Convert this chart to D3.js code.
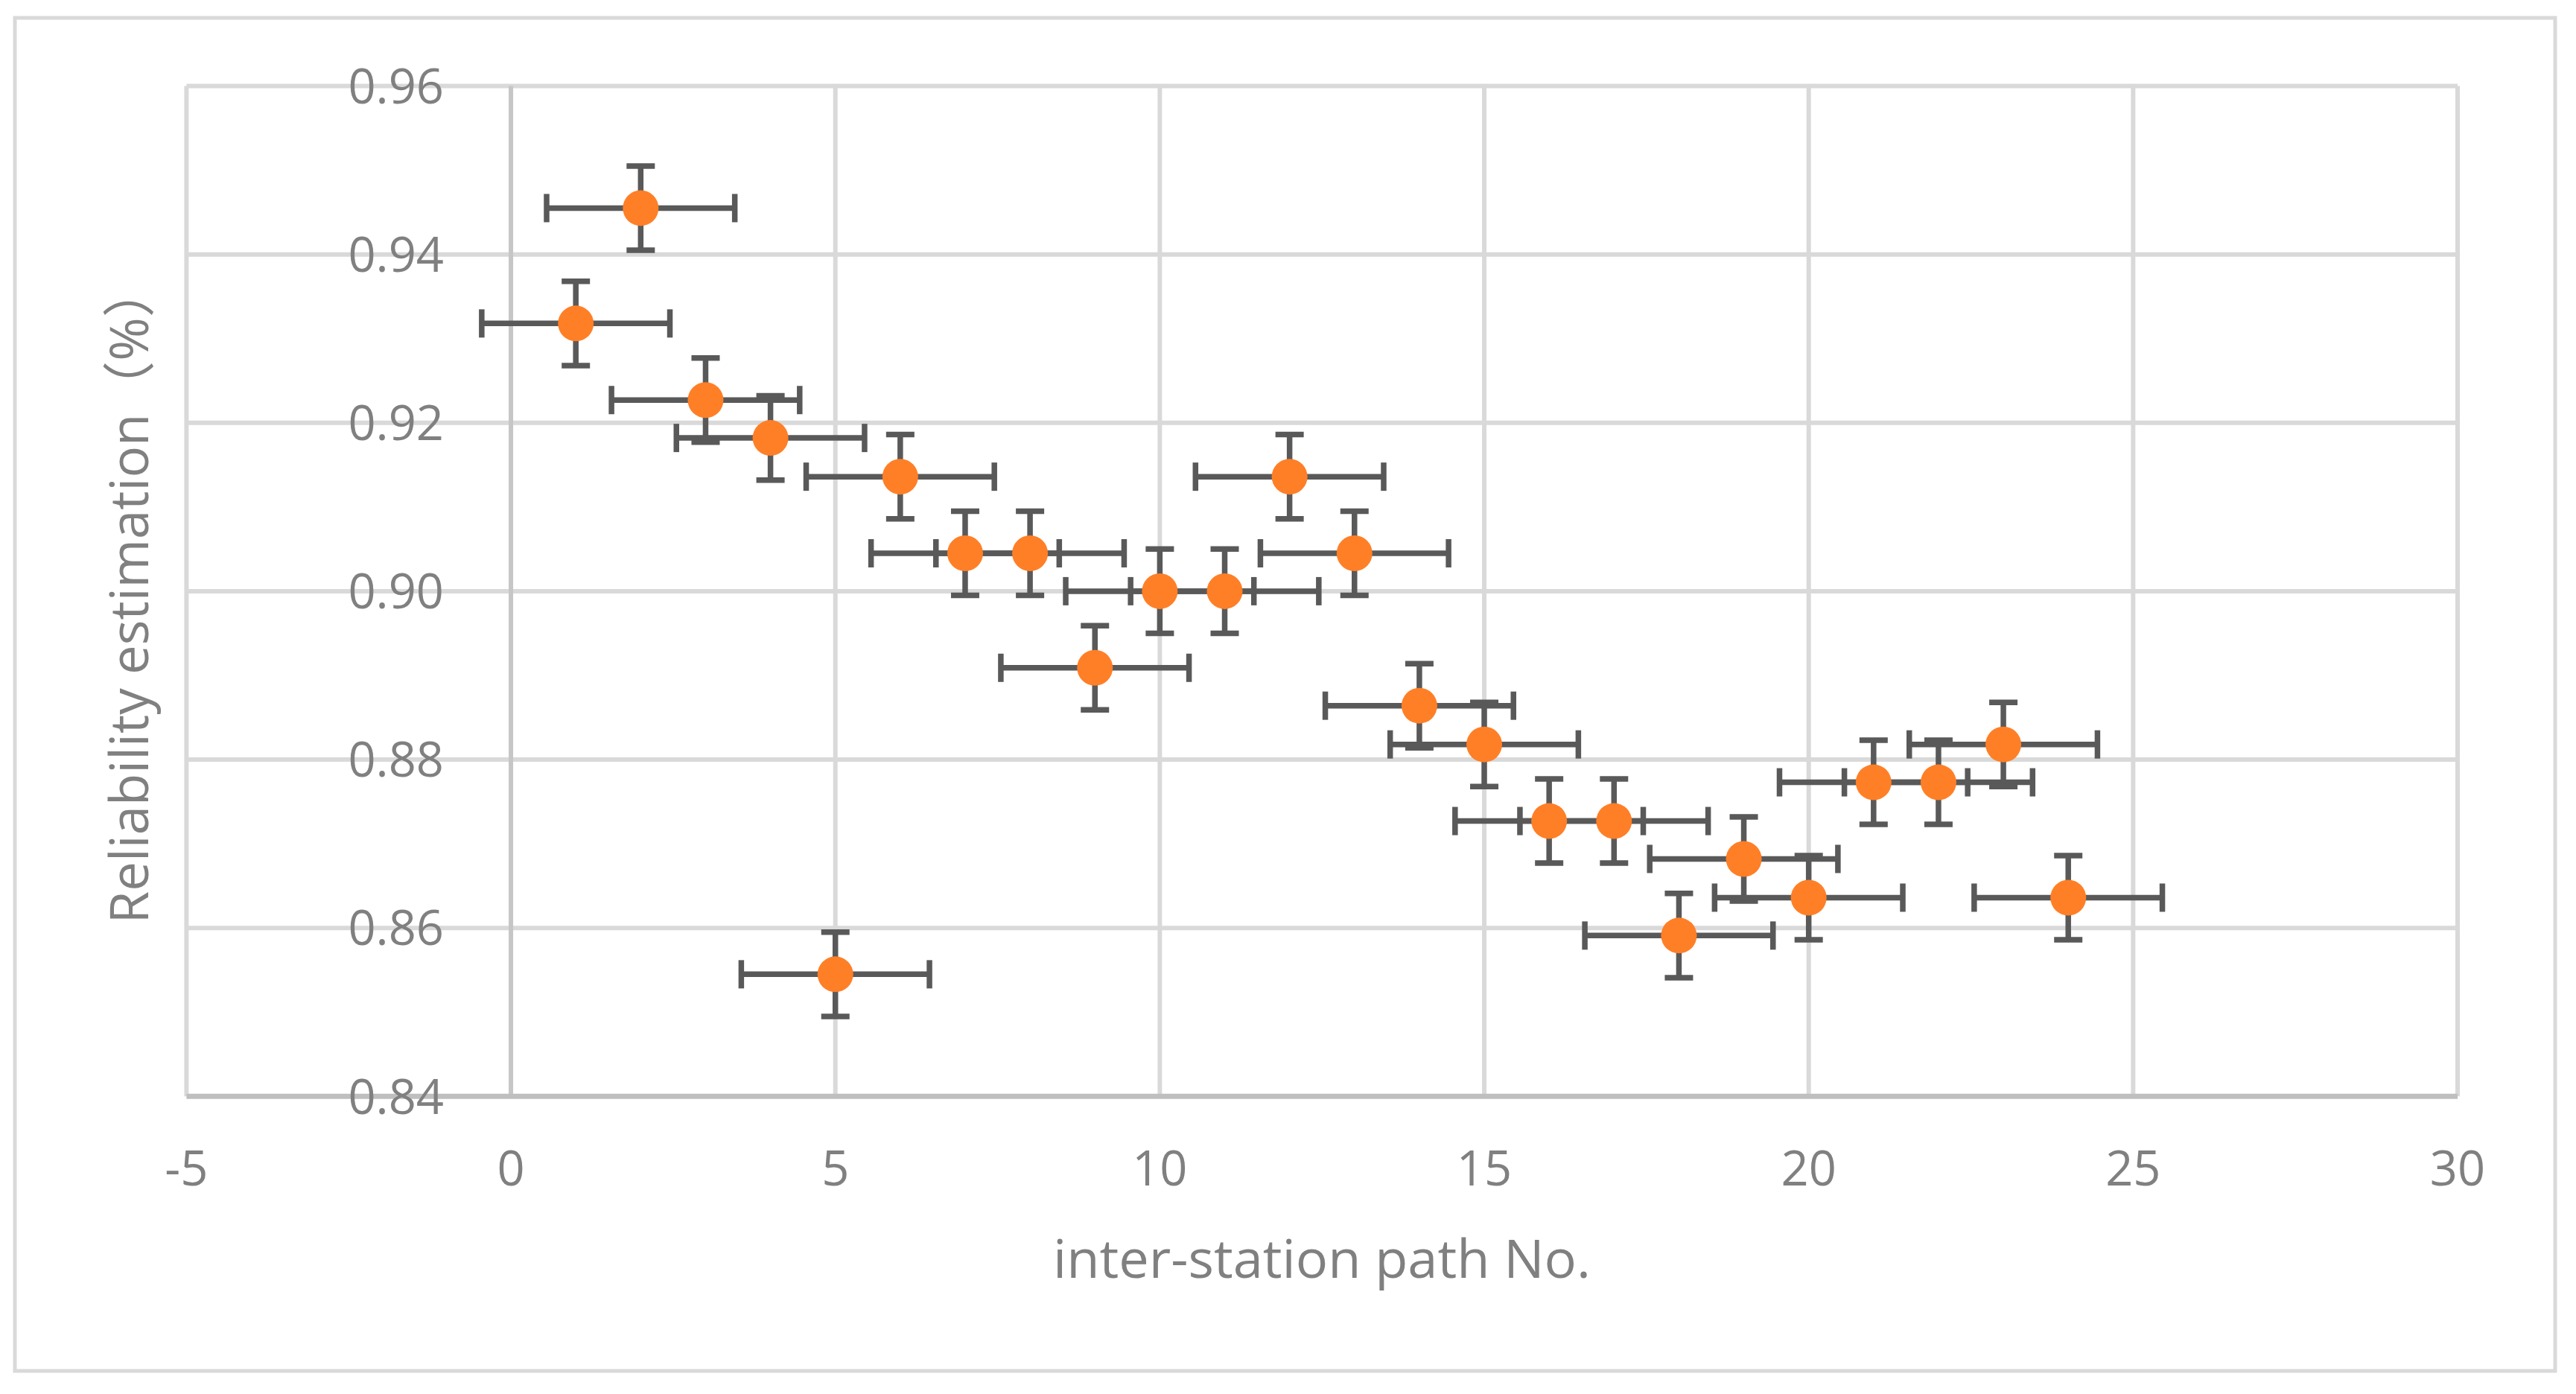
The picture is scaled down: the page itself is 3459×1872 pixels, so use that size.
<!DOCTYPE html>
<html>
<head>
<meta charset="utf-8">
<script src="https://cdn.jsdelivr.net/npm/d3@7"></script>
<style>
  html, body { margin: 0; padding: 0; background: #ffffff; }
  svg { display: block; }
</style>
</head>
<body>
<script>
// ---- data ----
const pathNo = [1, 2, 3, 4, 5, 6, 7, 8, 9, 10, 11, 12, 13, 14, 15, 16, 17, 18, 19, 20, 21, 22, 23, 24];
const reliability = [0.9318, 0.9455, 0.9227, 0.9182, 0.8545, 0.9136, 0.9045, 0.9045, 0.8909, 0.9000, 0.9000, 0.9136,
                     0.9045, 0.8864, 0.8818, 0.8727, 0.8727, 0.8591, 0.8682, 0.8636, 0.8773, 0.8773, 0.8818, 0.8636];
const xErrors = [1.45, 1.45, 1.45, 1.45, 1.45, 1.45, 1.45, 1.45, 1.45, 1.45, 1.45, 1.45,
                 1.45, 1.45, 1.45, 1.45, 1.45, 1.45, 1.45, 1.45, 1.45, 1.45, 1.45, 1.45];
const yErrors = [0.005, 0.005, 0.005, 0.005, 0.005, 0.005, 0.005, 0.005, 0.005, 0.005, 0.005, 0.005,
                 0.005, 0.005, 0.005, 0.005, 0.005, 0.005, 0.005, 0.005, 0.005, 0.005, 0.005, 0.005];
const xTicks = [-5, 0, 5, 10, 15, 20, 25, 30];
const yTicks = [0.84, 0.86, 0.88, 0.90, 0.92, 0.94, 0.96];
const yTickLabels = ["0.84", "0.86", "0.88", "0.90", "0.92", "0.94", "0.96"];
const xTitle = "inter-station path No.";
const yTitle = "Reliability estimation（%）";

// ---- layout ----
const W = 3459, H = 1872;
const plot = { left: 250.4, right: 3300, top: 115.5, bottom: 1472.3 };
const FONT = "'Open Sans', 'Noto Sans', 'Noto Sans CJK SC', sans-serif";
const TEXT = "#808080";

const svg = d3.select("body").append("svg").attr("width", W).attr("height", H);
svg.append("rect").attr("width", W).attr("height", H).attr("fill", "#ffffff");

// chart area border
svg.append("rect")
  .attr("x", 20).attr("y", 24).attr("width", 3431 - 20).attr("height", 1841 - 24)
  .attr("fill", "none").attr("stroke", "#d9d9d9").attr("stroke-width", 5);

const x = d3.scaleLinear().domain([-5, 30]).range([plot.left, plot.right]);
const y = d3.scaleLinear().domain([0.84, 0.96]).range([plot.bottom, plot.top]);

// gridlines
const grid = svg.append("g");
grid.selectAll("line.vg").data(xTicks.filter(d => d !== 0)).enter().append("line")
  .attr("x1", d => x(d)).attr("x2", d => x(d))
  .attr("y1", plot.top).attr("y2", plot.bottom)
  .attr("stroke", "#d9d9d9").attr("stroke-width", 6);
grid.selectAll("line.hg").data(yTicks.filter(d => d !== 0.84)).enter().append("line")
  .attr("x1", plot.left).attr("x2", plot.right)
  .attr("y1", d => y(d)).attr("y2", d => y(d))
  .attr("stroke", "#d9d9d9").attr("stroke-width", 6);

// axis lines (darker)
svg.append("line")
  .attr("x1", x(0)).attr("x2", x(0)).attr("y1", plot.top).attr("y2", plot.bottom)
  .attr("stroke", "#c6c6c6").attr("stroke-width", 6);
svg.append("line")
  .attr("x1", plot.left).attr("x2", plot.right).attr("y1", y(0.84)).attr("y2", y(0.84))
  .attr("stroke", "#bfbfbf").attr("stroke-width", 7);

function fit(sel, target) {
  const base = parseFloat(sel.attr("font-size"));
  const w = sel.node().getComputedTextLength();
  if (w > 0) sel.attr("font-size", base * target / w);
}

// y tick labels
const tickFs = 65;
svg.append("g").selectAll("text").data(yTicks).enter().append("text")
  .attr("x", 596).attr("y", d => y(d) + 0.357 * tickFs)
  .attr("text-anchor", "end")
  .attr("font-family", FONT).attr("font-size", tickFs).attr("fill", TEXT)
  .text((d, i) => yTickLabels[i]);

// x tick labels
svg.append("g").selectAll("text").data(xTicks).enter().append("text")
  .attr("x", d => x(d)).attr("y", 1592)
  .attr("text-anchor", "middle")
  .attr("font-family", FONT).attr("font-size", tickFs).attr("fill", TEXT)
  .text(d => String(d));

// axis titles
const xt = svg.append("text")
  .attr("x", 1775).attr("y", 1716)
  .attr("text-anchor", "middle")
  .attr("font-family", FONT).attr("font-size", 72).attr("fill", TEXT)
  .text(xTitle);
fit(xt, 722);

const yt = svg.append("text")
  .attr("transform", "translate(199,798) rotate(-90)")
  .attr("text-anchor", "middle")
  .attr("font-family", FONT).attr("font-size", 66).attr("fill", TEXT)
  .text(yTitle);
fit(yt, 885);

// error bars
const pts = pathNo.map((p, i) => ({ x: p, y: reliability[i], ex: xErrors[i], ey: yErrors[i] }));
const EB = "#595959", EW = 7.5, CAP = 19;
const eb = svg.append("g");
pts.forEach(d => {
  const cx = x(d.x), cy = y(d.y);
  const xl = x(d.x - d.ex), xr = x(d.x + d.ex);
  const yt2 = y(d.y + d.ey), yb = y(d.y - d.ey);
  eb.append("line").attr("x1", xl).attr("x2", xr).attr("y1", cy).attr("y2", cy).attr("stroke", EB).attr("stroke-width", EW);
  eb.append("line").attr("x1", xl).attr("x2", xl).attr("y1", cy - CAP).attr("y2", cy + CAP).attr("stroke", EB).attr("stroke-width", EW);
  eb.append("line").attr("x1", xr).attr("x2", xr).attr("y1", cy - CAP).attr("y2", cy + CAP).attr("stroke", EB).attr("stroke-width", EW);
  eb.append("line").attr("x1", cx).attr("x2", cx).attr("y1", yt2).attr("y2", yb).attr("stroke", EB).attr("stroke-width", EW);
  eb.append("line").attr("x1", cx - CAP).attr("x2", cx + CAP).attr("y1", yt2).attr("y2", yt2).attr("stroke", EB).attr("stroke-width", EW);
  eb.append("line").attr("x1", cx - CAP).attr("x2", cx + CAP).attr("y1", yb).attr("y2", yb).attr("stroke", EB).attr("stroke-width", EW);
});

// markers
svg.append("g").selectAll("circle").data(pts).enter().append("circle")
  .attr("cx", d => x(d.x)).attr("cy", d => y(d.y)).attr("r", 24)
  .attr("fill", "#ff7f27");
</script>
</body>
</html>
